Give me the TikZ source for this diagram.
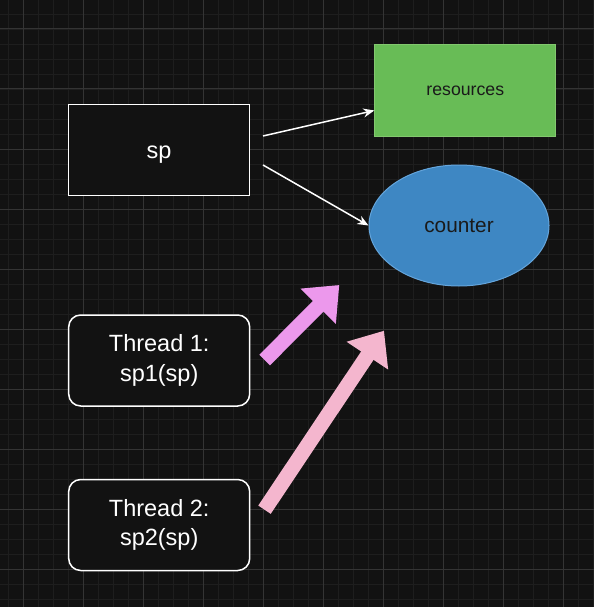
\documentclass[tikz,border=0pt]{standalone}
\usepackage{fontspec}
\setmainfont{Liberation Sans}
\usetikzlibrary{arrows.meta,shapes.geometric,calc}
\definecolor{bg}{RGB}{18,18,18}
\definecolor{gridminor}{RGB}{30,30,30}
\definecolor{gridmajor}{RGB}{52,52,52}
\definecolor{resfill}{RGB}{104,188,86}
\definecolor{resline}{RGB}{130,200,110}
\definecolor{cntfill}{RGB}{62,135,195}
\definecolor{cntline}{RGB}{100,165,220}
\definecolor{violetarrow}{RGB}{236,152,236}
\definecolor{pinkarrow}{RGB}{244,182,206}
\definecolor{darktext}{RGB}{26,26,26}
\tikzset{
  whitebox/.style={draw=white, line width=1.5pt, fill=bg, text=white, inner sep=0pt,
    minimum width=181pt, minimum height=91pt, font=\fontsize{23.5}{29.3}\selectfont, align=center},
  threadbox/.style={whitebox, rounded corners=12pt},
  thinarrow/.style={draw=white, line width=1.5pt, -{Stealth[length=11pt,width=9pt]}},
  blockarrow/.style={line width=15pt, -{Triangle[length=30pt,width=48pt]}},
}
\begin{document}
\begin{tikzpicture}[x=1pt,y=-1pt]
\useasboundingbox (0,0) rectangle (594,607);
\fill[bg] (0,0) rectangle (594,607);
% grid
\foreach \x in {8,23,...,593} \draw[gridminor, line width=0.8pt] (\x,0) -- (\x,607);
\foreach \y in {14,29,...,606} \draw[gridminor, line width=0.8pt] (0,\y) -- (594,\y);
\foreach \x in {23,83,...,583} \draw[gridmajor, line width=1pt] (\x,0) -- (\x,607);
\foreach \y in {29,89,...,606} \draw[gridmajor, line width=1pt] (0,\y) -- (594,\y);
% nodes
\node[whitebox, text height=20pt, text depth=4pt] (sp) at (159,150) {sp};
\node[draw=resline, fill=resfill, line width=1pt, minimum width=181pt, minimum height=91pt,
  inner sep=0pt, text=darktext, font=\fontsize{17.7}{20}\selectfont] (res) at (465.3,90.5) {resources};
\node[ellipse, draw=cntline, fill=cntfill, line width=1pt, minimum width=180pt, minimum height=121pt,
  inner sep=0pt, text=darktext, font=\fontsize{20.8}{24}\selectfont] (cnt) at (459,225.5) {counter};
\node[threadbox] (t1) at (159.2,360.5) {Thread 1:\\sp1(sp)};
\node[threadbox] (t2) at (159.2,525) {Thread 2:\\sp2(sp)};
% thin arrows
\coordinate (a1s) at (263,136);
\coordinate (a2s) at (263,165);
\draw[thinarrow] (a1s) -- ([yshift=-20pt]res.west);
\draw[thinarrow] (a2s) -- (cnt.west);
% block arrows
\coordinate (b1s) at (264.7,360);
\coordinate (b1e) at (339.3,285);
\coordinate (b2s) at (264.5,509.7);
\coordinate (b2e) at (384,330.7);
\draw[blockarrow, violetarrow] (b1s) -- (b1e);
\draw[blockarrow, pinkarrow] (b2s) -- (b2e);
\end{tikzpicture}
\end{document}
